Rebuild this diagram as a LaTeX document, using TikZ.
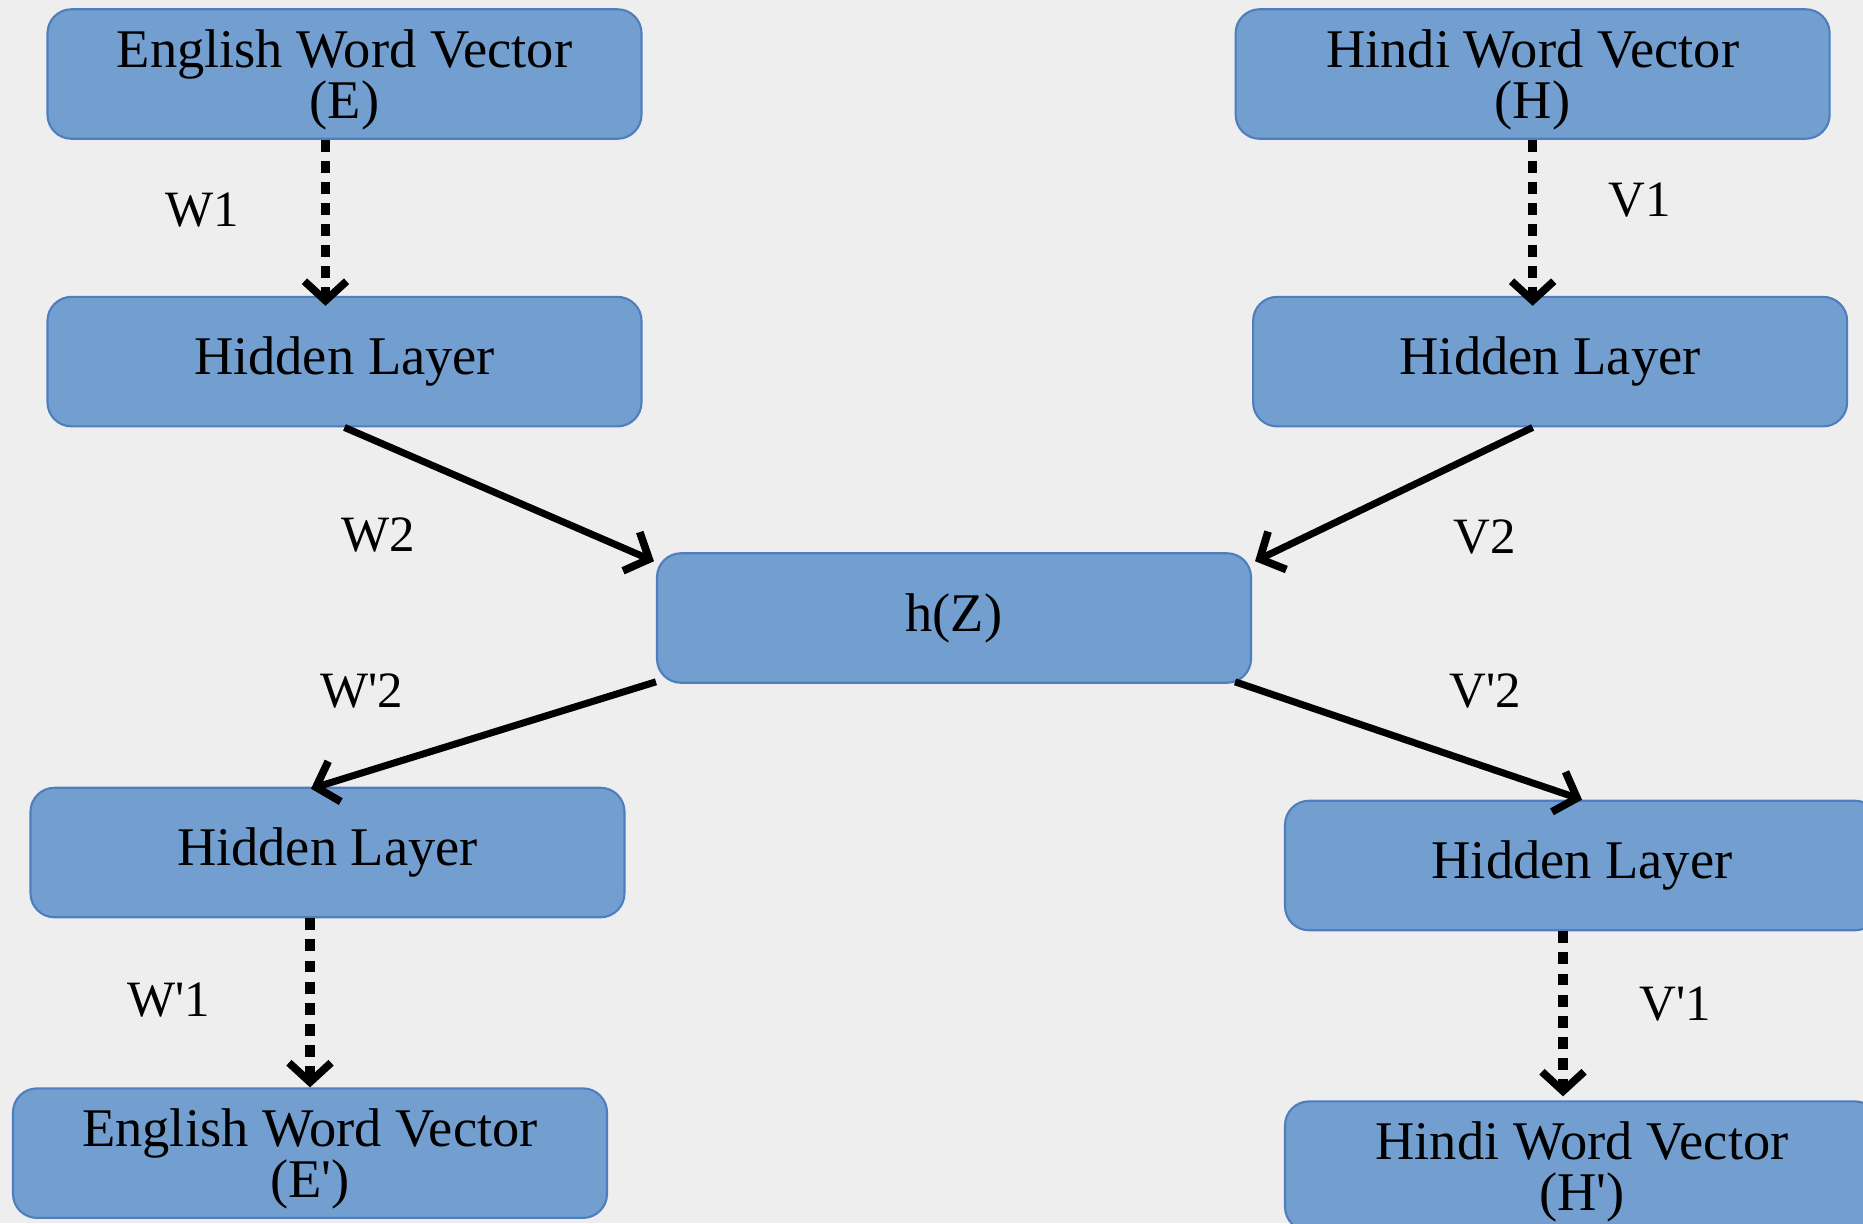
\documentclass[tikz,border=0pt]{standalone}
\usepackage{fontspec}
\setmainfont{Liberation Serif}
\usetikzlibrary{arrows.meta,positioning,calc}

\definecolor{bgray}{RGB}{238,238,238}
\definecolor{boxfill}{RGB}{114,159,207}
\definecolor{boxline}{RGB}{78,126,190}

\begin{document}
\begin{tikzpicture}[
  blk/.style={draw=boxline, fill=boxfill, line width=0.6pt, rounded corners=0.24cm, align=center, minimum width=5.94cm, minimum height=1.295cm, inner sep=0pt, font=\fontsize{15.5}{14.5}\selectfont},
  twoline/.style={blk, text depth=-1.5pt},
  arr/.style={-{Straight Barb[length=5.5pt, width=12pt, line width=2.2pt]}, line width=2pt},
  dsh/.style={-{Straight Barb[length=5.5pt, width=12pt, line width=2.2pt]}, line width=2.6pt, dash pattern=on 3.4pt off 2.6pt},
  lbl/.style={font=\fontsize{14.5}{16}\selectfont}
]

\useasboundingbox (0,0) rectangle (18.63,-12.23);
\fill[bgray] (0,0) rectangle (18.63,-12.23);

\node[twoline] (eng) at (3.445,-0.74) {English Word Vector\\(E)};
\node[blk, below=1.56cm of eng] (hidL) {Hidden Layer};
\node[twoline, right=5.92cm of eng] (hin) {Hindi Word Vector\\(H)};
\node[blk, below=1.56cm of hin, xshift=0.175cm] (hidR) {Hidden Layer};

\node[blk] (hz) at (9.54,-6.18) {h(Z)};

\node[blk] (hidLb) at (3.275,-8.525) {Hidden Layer};
\node[twoline, below=1.69cm of hidLb, xshift=-0.175cm] (engOut) {English Word Vector\\(E\textquotesingle)};
\node[blk] (hidRb) at (15.82,-8.655) {Hidden Layer};
\node[twoline, below=1.69cm of hidRb] (hinOut) {Hindi Word Vector\\(H\textquotesingle)};

\draw[dsh, shorten >=-0.1cm] ($(eng.south)+(-0.19,0)$) -- ($(hidL.north)+(-0.19,0)$);
\draw[dsh, shorten >=-0.1cm] (hin.south) -- (hin.south |- hidR.north);

\draw[arr] (hidL.south) -- ($(hz.north west)+(-0.02,-0.09)$);
\draw[arr] (hin.south |- hidR.south) -- ($(hz.north east)+(0.03,-0.09)$);
\draw[arr] ($(hz.south west)+(0,0.02)$) -- ($(hidLb.north)+(-0.165,-0.02)$);
\draw[arr] ($(hz.south east)+(-0.17,0.02)$) -- (hidRb.north);

\draw[dsh] (engOut.north |- hidLb.south) -- (engOut.north);
\draw[dsh] ($(hidRb.south)+(-0.19,0)$) -- ($(hinOut.north)+(-0.19,0.04)$);

\node[lbl] (w1) at (2.02,-2.10) {W1};
\node[lbl] (v1) at (16.40,-2.00) {V1};
\node[lbl] (w2) at (3.78,-5.35) {W2};
\node[lbl] (v2) at (14.85,-5.37) {V2};
\node[lbl] (wp2) at (3.62,-6.91) {W\textquotesingle 2};
\node[lbl] (vp2) at (14.85,-6.91) {V\textquotesingle 2};
\node[lbl] (wp1) at (1.69,-10.00) {W\textquotesingle 1};
\node[lbl] (vp1) at (16.75,-10.04) {V\textquotesingle 1};

\end{tikzpicture}
\end{document}
